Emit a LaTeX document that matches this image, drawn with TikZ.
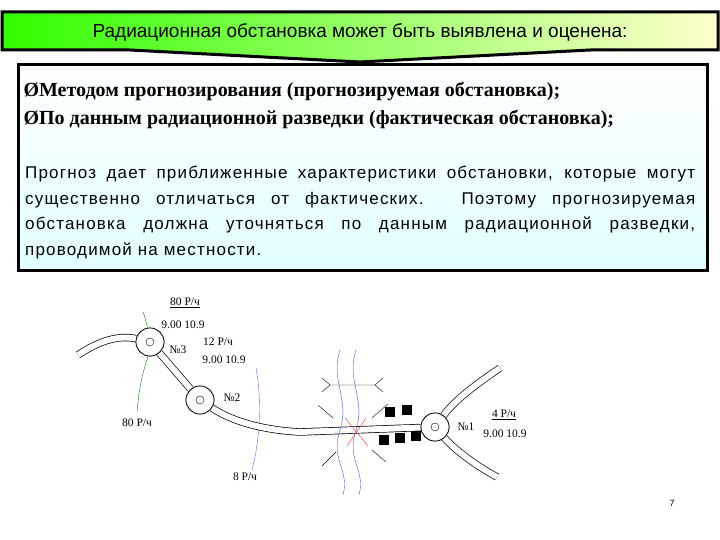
\documentclass[tikz,border=0pt]{standalone}
\usepackage{fontspec}
\setmainfont{Liberation Serif}
\newfontfamily\sans{Liberation Sans}
\newfontfamily\spsans{Liberation Sans}[LetterSpace=7]
\begin{document}
\begin{tikzpicture}[x=1pt,y=-1pt,
  road/.style={draw=black,double=white,double distance=6pt,line width=0.7pt},
  lab/.style={font=\fontsize{11.5}{11.5}\selectfont,inner sep=1pt},
  town/.style={circle,draw,line width=0.7pt,fill=white,minimum size=28pt,inner sep=0pt},
  hut/.style={fill=black,minimum size=10pt,inner sep=0pt}]
\useasboundingbox (0,0) rectangle (720,540);
% header
\shade[left color=green!75!lime, right color=yellow!20, draw=black, line width=3pt]
  (2,12) -- (718,12) -- (718,50) -- (590,50) -- (360,62) -- (130,50) -- (2,50) -- cycle;
\node (hdr) at (360,32) {\sans\fontsize{19}{19}\selectfont Радиационная обстановка может быть выявлена и оценена:};
% body box
\shade[top color=white, bottom color=cyan!12, draw=black, line width=3pt] (18,65) rectangle (707,270);
\node[anchor=west] (b1) at (20,92) {\bfseries\fontsize{20}{20}\selectfont ØМетодом прогнозирования (прогнозируемая обстановка);};
\node[anchor=west] (b2) at (20,119) {\bfseries\fontsize{20}{20}\selectfont ØПо данным радиационной разведки (фактическая обстановка);};
\node[anchor=north west,text width=670pt,align=justify,inner sep=0pt] (par) at (25,166)
 {\spsans\fontsize{17}{25.5}\selectfont Прогноз дает приближенные характеристики обстановки, которые могут\linebreak существенно отличаться от фактических. Поэтому прогнозируемая\linebreak обстановка должна уточняться по данным радиационной разведки,\linebreak проводимой на местности.\par};
% towns
\node[town] (t3) at (150,342) {};
\node[town] (t2) at (200,400) {};
\node[town] (t1) at (435,427) {};
% isolines
\draw[green!50!black,thin] (143,312) .. controls (150,330) and (150,350) .. (147,360) .. controls (140,380) and (138,400) .. (137,412);
\draw[blue!60,thin] (256,368) .. controls (262,400) and (260,440) .. (252,470);
% roads
\draw[road] (78,355) .. controls (100,340) and (120,335) .. (t3);
\draw[road] (t3) -- (t2);
\draw[road] (t2) .. controls (230,420) and (260,430) .. (300,432) -- (t1);
\draw[road] (t1) .. controls (455,400) and (475,385) .. (500,368);
\draw[road] (t1) .. controls (455,450) and (475,465) .. (497,477);
\foreach \t in {t1,t2,t3}{\node[town] at (\t) {}; \draw (\t) circle (4pt);}
% river
\draw[blue!70,thin] (340,350) .. controls (330,380) and (350,400) .. (340,430) .. controls (330,460) and (350,470) .. (343,495);
\draw[blue!70,thin] (356,350) .. controls (346,380) and (366,400) .. (356,430) .. controls (346,460) and (366,470) .. (359,495);
% bridge marks
\draw (330,385) -- (375,385) (330,385) -- (322,378) (330,385) -- (322,392) (375,385) -- (383,378) (375,385) -- (383,392);
\draw (333,418) -- (318,405) (372,418) -- (388,404) (336,452) -- (322,466) (372,450) -- (386,462);
\draw[red!80] (345,418) -- (368,446) (366,418) -- (347,446);
% huts
\foreach \p in {(390,412),(407,410),(384,440),(400,438),(416,436)} \node[hut] at \p {};
% labels
\node[lab] (l1) at (185,303) {\underline{80 Р/ч}};
\node[lab] (l2) at (183,325) {9.00 10.9};
\node[lab] (l3) at (178,350) {№3};
\node[lab] (l4) at (218,342) {12 Р/ч};
\node[lab] (l5) at (224,360) {9.00 10.9};
\node[lab] (l6) at (232,398) {№2};
\node[lab] (l7) at (137,423) {80 Р/ч};
\node[lab] (l8) at (245,477) {8 Р/ч};
\node[lab] (l9) at (466,427) {№1};
\node[lab] (l10) at (504,415) {\underline{4 Р/ч}};
\node[lab] (l11) at (505,434) {9.00 10.9};
\node[font=\sans\small] (pg) at (672,503) {7};
\end{tikzpicture}
\end{document}
